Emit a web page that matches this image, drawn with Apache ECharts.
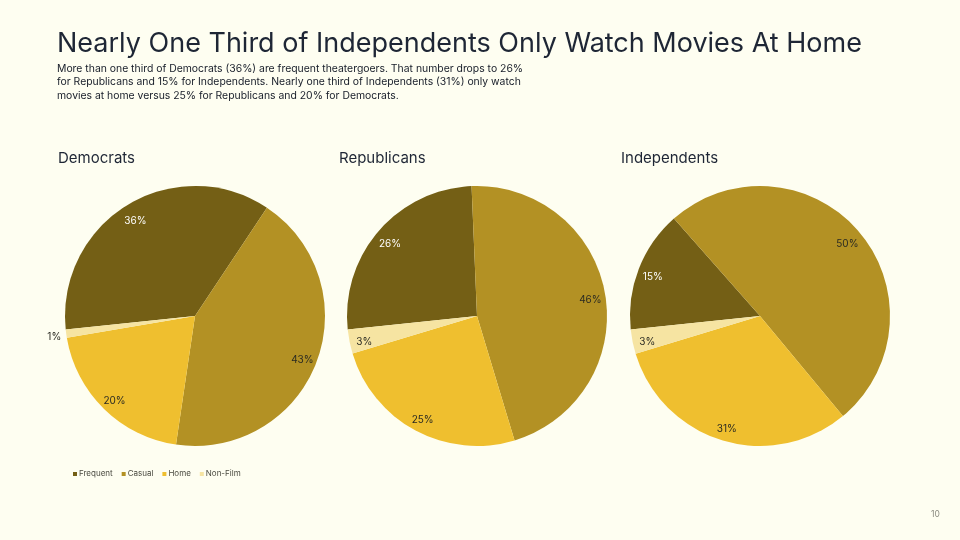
<!DOCTYPE html>
<html>
<head>
<meta charset="utf-8">
<script src="https://cdn.jsdelivr.net/npm/echarts@6/dist/echarts.min.js"></script>
<style>
  html, body { margin: 0; padding: 0; background: #fefef1; }
  #main { width: 960px; height: 540px; }
</style>
</head>
<body>
<div id="main"></div>
<script>
var categories = ['Frequent', 'Casual', 'Home', 'Non-Film']
var groups = ['Democrats', 'Republicans', 'Independents']
var democrats = [36, 43, 20, 1]
var republicans = [26, 46, 25, 3]
var independents = [15, 50, 31, 3]
var colors = ['#745f15', '#b39124', '#efbf2f', '#f6e4a2']

var allValues = [democrats, republicans, independents]
var centers = [[195, 316], [477, 316], [760, 316]]
var headX = [53, 334, 616]
var font = 'Inter, "Noto Sans", sans-serif'
var dark = '#1e2635'

function toData(values){
    var out = []
    for(let i=0;i<values.length;i++){
        out.push({ name: categories[i], value: values[i], itemStyle: { color: colors[i] } })
    }
    return out
}

// label ring: transparent pie on top so inside labels land near the rim
function toLabelData(values){
    var out = []
    for(let i=0;i<values.length;i++){
        var item = {
            name: categories[i],
            value: values[i],
            itemStyle: { color: 'rgba(0,0,0,0)' },
            label: { color: i == 0 ? '#ffffff' : '#2a2a22' }
        }
        if(values[i] < 2){
            item.label.position = 'outside'
            item.label.offset = [0, 3]
            item.labelLine = { show: false, length: 0, length2: 0 }
        }
        out.push(item)
    }
    return out
}

var series = []
var titles = [
    {
        text: 'Nearly One Third of Independents Only Watch Movies At Home',
        left: 52, top: 25,
        textStyle: { fontFamily: font, fontSize: 27, fontWeight: 'normal', color: dark }
    },
    {
        text: 'More than one third of Democrats (36%) are frequent theatergoers. That number drops to 26%\nfor Republicans and 15% for Independents. Nearly one third of Independents (31%) only watch\nmovies at home versus 25% for Republicans and 20% for Democrats.',
        left: 52, top: 57,
        textStyle: { fontFamily: font, fontSize: 10.4, fontWeight: 'normal', color: '#161c28', lineHeight: 13.5 }
    }
]

for(let g=0;g<groups.length;g++){
    titles.push({
        text: groups[g], left: headX[g], top: 146,
        textStyle: { fontFamily: font, fontSize: 15, fontWeight: 'normal', color: dark }
    })
    series.push({
        type: 'pie',
        name: groups[g],
        center: centers[g],
        radius: [0, 130],
        startAngle: 186,
        clockwise: true,
        label: { show: false },
        labelLine: { show: false },
        emphasis: { scale: false },
        data: toData(allValues[g])
    })
    series.push({
        type: 'pie',
        name: groups[g] + ' labels',
        center: centers[g],
        radius: [94, 130],
        startAngle: 186,
        clockwise: true,
        silent: true,
        avoidLabelOverlap: false,
        label: {
            show: true,
            position: 'inside',
            formatter: '{c}%',
            fontFamily: font,
            fontSize: 10,
            offset: [0, 3]
        },
        labelLine: { show: false },
        data: toLabelData(allValues[g])
    })
}
titles.push({
    text: '10', left: 926, top: 505,
    textStyle: { fontFamily: font, fontSize: 8.5, fontWeight: 'normal', color: '#8a8a80' }
})

var option = {
    backgroundColor: '#fefef1',
    animation: false,
    title: titles,
    legend: {
        data: categories,
        left: 68,
        top: 465,
        icon: 'rect',
        itemWidth: 4,
        itemHeight: 4,
        itemGap: 9,
        textStyle: { fontFamily: font, fontSize: 8, color: '#4a4a40', padding: [0, 0, 0, -3] }
    },
    series: series
}

var myChart = echarts.init(document.getElementById('main'))
myChart.setOption(option)
</script>
</body>
</html>
